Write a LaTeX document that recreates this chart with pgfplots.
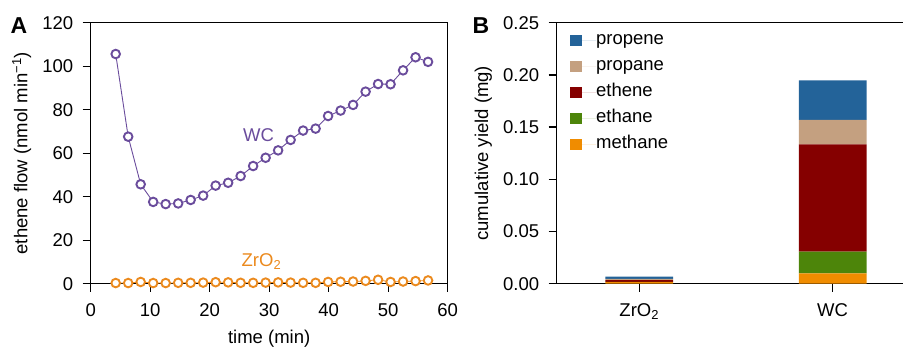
\documentclass[border=0pt]{standalone}
\usepackage{pgfplots}
\pgfplotsset{compat=1.18}
\usepackage{fontspec}
\setmainfont{Liberation Sans}
\definecolor{wccol}{HTML}{6A4C9C}
\definecolor{zrcol}{HTML}{EB8A1E}
\definecolor{propene}{HTML}{236399}
\definecolor{propane}{HTML}{C4A080}
\definecolor{ethene}{HTML}{850000}
\definecolor{ethane}{HTML}{4D850A}
\definecolor{methane}{HTML}{F08C00}
\pgfplotsset{
  common/.style={
    scale only axis,
    anchor=south west,
    tick align=outside,
    tick pos=left,
    major tick length=8pt,
    axis line style={line width=1.3pt},
    every tick/.style={black, line width=1.3pt},
    /pgf/number format/assume math mode=true,
    ticklabel style={font=\fontsize{18.5}{21}\selectfont},
    xticklabel style={yshift=-8pt},
    yticklabel style={xshift=-6pt},
    label style={font=\fontsize{18.5}{21}\selectfont},
    clip=false,
  }
}
\begin{document}
\begin{tikzpicture}[font=\fontsize{18.5}{21}\selectfont]
\useasboundingbox (0,0) rectangle (903pt,347pt);
\node[font=\bfseries\fontsize{23}{26}\selectfont] at (19pt,321pt) {A};
\node[font=\bfseries\fontsize{23}{26}\selectfont] at (481pt,321pt) {B};
\begin{axis}[common,
  at={(90.7pt,63.3pt)}, width=357pt, height=261pt,
  xmin=0, xmax=60, ymin=0, ymax=120,
  xtick={0,10,...,60}, ytick={0,20,...,120},
  xlabel={time (min)},
  ylabel={ethene flow (nmol min\textsuperscript{−1})},
  xlabel style={at={(axis description cs:0.5,-0.209)}, anchor=center},
  ylabel style={at={(axis description cs:-0.193,0.5)}, anchor=center},
]
\addplot[zrcol, line width=0.8pt, mark=*, mark size=4.3pt, mark options={line width=1.9pt, draw=zrcol, fill=white}] coordinates {
(4.2,0.3)(6.3,0.3)(8.4,0.8)(10.5,0.3)(12.6,0.3)(14.7,0.4)(16.8,0.4)(18.9,0.5)(21.0,0.7)(23.1,0.6)(25.2,0.4)(27.3,0.4)(29.4,0.5)(31.5,0.6)(33.6,0.5)(35.7,0.4)(37.8,0.4)(39.9,0.8)(42.0,0.9)(44.1,1.0)(46.2,1.3)(48.3,1.8)(50.4,0.8)(52.5,1.0)(54.6,1.2)(56.7,1.5)};
\addplot[wccol, line width=0.9pt, mark=*, mark size=4.3pt, mark options={line width=1.9pt, draw=wccol, fill=white}] coordinates {
(4.2,105.6)(6.3,67.6)(8.4,45.7)(10.5,37.6)(12.6,36.6)(14.7,36.9)(16.8,38.5)(18.9,40.5)(21.0,45.1)(23.1,46.4)(25.2,49.5)(27.3,54.1)(29.4,57.9)(31.5,61.3)(33.6,66.1)(35.7,70.4)(37.8,71.3)(39.9,77.1)(42.0,79.6)(44.1,82.2)(46.2,88.3)(48.3,91.8)(50.4,91.7)(52.5,98.1)(54.6,104.1)(56.7,102.0)};
\node[wccol] at (axis cs:28.2,68.4) {WC};
\node[zrcol] at (axis cs:28.7,10.1) {ZrO\textsubscript{2}};
\end{axis}
\begin{axis}[common,
  at={(556.7pt,63.3pt)}, width=353.3pt, height=261pt,
  xmin=-0.427, xmax=1.40, ymin=0, ymax=0.25,
  ybar stacked, bar width=67.7pt,
  xtick={0,1}, xticklabels={ZrO\textsubscript{2}, WC},
  ytick={0,0.05,...,0.25},
  yticklabel style={/pgf/number format/.cd, fixed, fixed zerofill, precision=2},
  ylabel={cumulative yield (mg)},
  ylabel style={at={(axis description cs:-0.2078,0.5)}, anchor=center},
  reverse legend,
  legend cell align=left,
  legend style={at={(axis description cs:0.029,0.972)}, anchor=north west, draw=none, fill=none,
    row sep=9.5pt, font=\fontsize{18.5}{21}\selectfont,
    nodes={inner sep=0pt, text height=12.5pt, text depth=4pt}},
  legend image code/.code={\fill[#1] (0pt,-5.85pt) rectangle (11.7pt,5.85pt); \path (0pt,0pt) -- (26pt,0pt);},
]
\addplot[fill=methane, draw=none] coordinates {(0,0.0015)(1,0.0100)};
\addplot[fill=ethane, draw=none] coordinates {(0,0.0003)(1,0.0207)};
\addplot[fill=ethene, draw=none] coordinates {(0,0.0015)(1,0.1028)};
\addplot[fill=propane, draw=none] coordinates {(0,0.0012)(1,0.0233)};
\addplot[fill=propene, draw=none] coordinates {(0,0.0022)(1,0.0380)};
\legend{methane, ethane, ethene, propane, propene}
\end{axis}
\end{tikzpicture}
\end{document}
